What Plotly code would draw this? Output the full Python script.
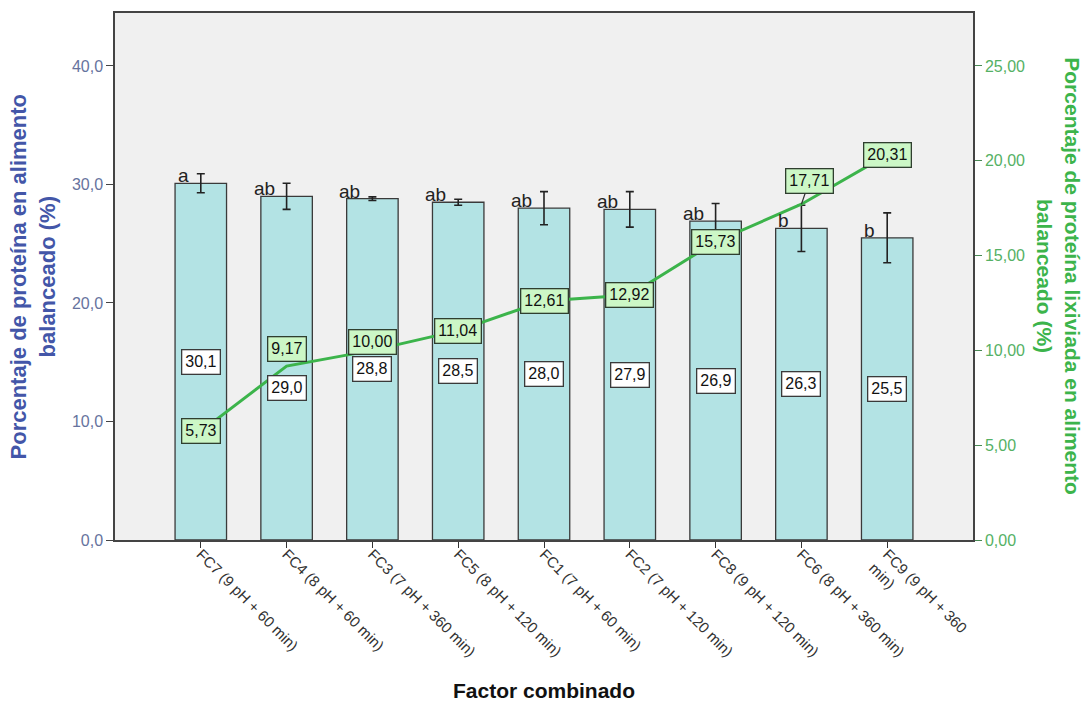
import plotly.graph_objects as go

# Treatment combinations (pH + time) in the plotted order
categories = [
    "FC7 (9 pH + 60 min)",
    "FC4 (8 pH + 60 min)",
    "FC3 (7 pH + 360 min)",
    "FC5 (8 pH + 120 min)",
    "FC1 (7 pH + 60 min)",
    "FC2 (7 pH + 120 min)",
    "FC8 (9 pH + 120 min)",
    "FC6 (8 pH + 360 min)",
    "FC9 (9 pH + 360<br>min)",
]

# Protein in balanced feed (%) - bars, left axis
protein = [30.1, 29.0, 28.8, 28.5, 28.0, 27.9, 26.9, 26.3, 25.5]
protein_err = [0.8, 1.1, 0.15, 0.25, 1.4, 1.5, 1.5, 1.95, 2.1]
groups = ["a", "ab", "ab", "ab", "ab", "ab", "ab", "b", "b"]

# Leached protein (%) - line, right axis
leached = [5.73, 9.17, 10.00, 11.04, 12.61, 12.92, 15.73, 17.71, 20.31]

left_ticks = [0, 10, 20, 30, 40]
right_ticks = [0, 5, 10, 15, 20, 25]

# Label placement tweaks (pixels) to keep the boxes apart
bar_label_dy = [0, -20, 0, 0, 0, 0, 0, 0, 0]
line_label_dy = [0, 17, 8, 0, 0, 0, 0, 0, 0]

FONT = "Liberation Sans, Arial, sans-serif"
BLUE = "#4356a8"
GREEN = "#3cb44b"
idx = list(range(len(categories)))


def fmt(v, d):
    return f"{v:.{d}f}".replace(".", ",")


fig = go.Figure()

fig.add_trace(go.Bar(
    x=idx, y=protein, width=0.6,
    marker=dict(color="#b3e3e4", line=dict(color="#3a3a3a", width=1.3)),
    error_y=dict(type="data", array=protein_err, color="#222222",
                 thickness=1.6, width=4),
    hoverinfo="skip", showlegend=False,
))

fig.add_trace(go.Scatter(
    x=idx, y=leached, yaxis="y2", mode="lines",
    line=dict(color=GREEN, width=3),
    hoverinfo="skip", showlegend=False,
))

annotations = []

# Significance letters above each bar
for i, (v, g) in enumerate(zip(protein, groups)):
    annotations.append(dict(
        x=i, y=v, xref="x", yref="y", text=g, showarrow=False,
        xanchor="right", yanchor="bottom", xshift=-10, yshift=-5,
        font=dict(family=FONT, size=19, color="#222222"),
    ))

# Bar value boxes, centred on half the bar height
for i, v in enumerate(protein):
    annotations.append(dict(
        x=i, y=v / 2, xref="x", yref="y", text=fmt(v, 1), showarrow=False,
        yshift=bar_label_dy[i],
        bgcolor="white", bordercolor="#3a3a3a", borderwidth=1.3, borderpad=3,
        font=dict(family=FONT, size=16, color="#111111"),
    ))

# Line value boxes
for i, v in enumerate(leached):
    box = dict(
        x=i, y=v, xref="x", yref="y2", text=fmt(v, 2),
        bgcolor="#ccf7c6", bordercolor="#2f3f2f", borderwidth=1.3, borderpad=3,
        font=dict(family=FONT, size=16, color="#111111"),
    )
    if i == 7:
        box.update(showarrow=True, ax=8, ay=-23, arrowhead=0,
                   arrowwidth=1.2, arrowcolor="#333333", standoff=0)
    else:
        box.update(showarrow=False, yshift=line_label_dy[i])
    annotations.append(box)

# Axis titles
annotations += [
    dict(xref="paper", yref="paper", x=-0.0956, y=0.5,
         text="Porcentaje de proteína en alimento<br>balanceado (%)",
         textangle=-90, showarrow=False, xanchor="center", yanchor="middle",
         font=dict(family=FONT, size=22, color=BLUE, weight="bold")),
    dict(xref="paper", yref="paper", x=1.1005, y=0.5,
         text="Porcentaje de proteína lixiviada en alimento<br>balanceado (%)",
         textangle=90, showarrow=False, xanchor="center", yanchor="middle",
         font=dict(family=FONT, size=21, color=GREEN, weight="bold")),
    dict(xref="paper", yref="paper", x=0.5, y=-0.285,
         text="Factor combinado", showarrow=False,
         xanchor="center", yanchor="middle",
         font=dict(family=FONT, size=21, color="#111111", weight="bold")),
]

left_max = 44.47
ratio = 40 / 25

fig.update_layout(
    width=1087, height=702,
    margin=dict(l=115, r=114, t=13, b=162),
    paper_bgcolor="white", plot_bgcolor="#f0f0f0",
    separators=",.",
    font=dict(family=FONT),
    xaxis=dict(
        range=[-1, 9], tickmode="array", tickvals=idx, ticktext=categories,
        tickangle=45, ticks="outside", ticklen=6, tickcolor="#333333",
        ticklabelstandoff=-8,
        tickfont=dict(family=FONT, size=15, color="#333333"),
        showline=True, linecolor="#444444", linewidth=1.5, mirror=True,
        showgrid=False, zeroline=False,
    ),
    yaxis=dict(
        range=[0, left_max], tickmode="array", tickvals=left_ticks,
        tickformat=".1f", ticks="outside", ticklen=7, tickcolor="#444444",
        tickfont=dict(family=FONT, size=16, color="#66739e"),
        showline=True, linecolor="#444444", linewidth=1.5, mirror=True,
        showgrid=False, zeroline=False,
    ),
    yaxis2=dict(
        range=[0, left_max / ratio], overlaying="y", side="right",
        tickmode="array", tickvals=right_ticks, tickformat=".2f",
        ticks="outside", ticklen=7, tickcolor="#4a8a55",
        tickfont=dict(family=FONT, size=16, color="#55b165"),
        showline=True, linecolor="#444444", linewidth=1.5,
        showgrid=False, zeroline=False,
    ),
    annotations=annotations,
)

fig.write_html("out.html")
